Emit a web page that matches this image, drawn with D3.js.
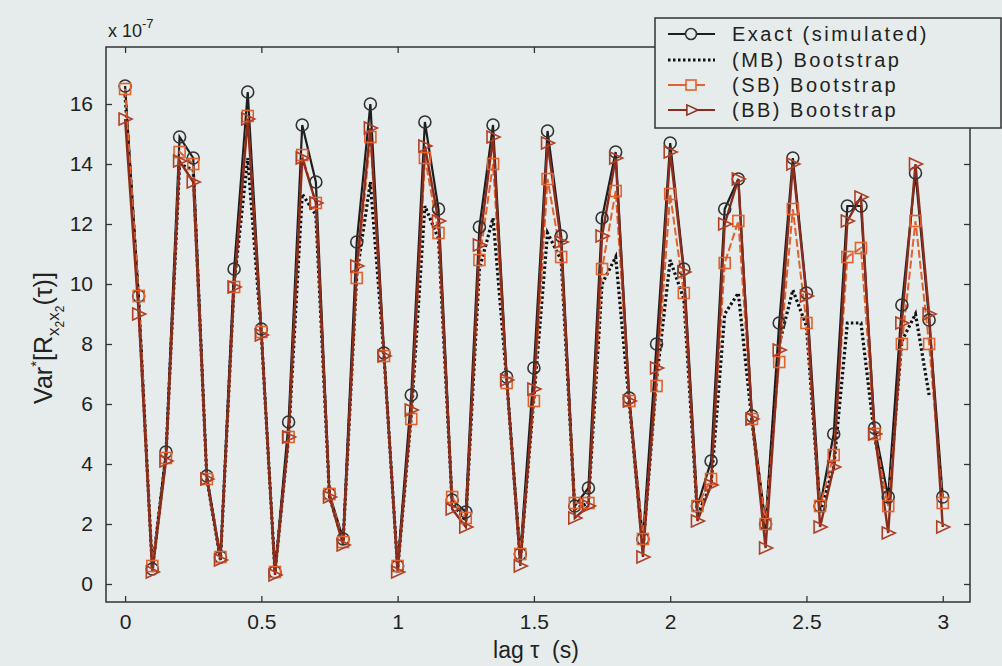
<!DOCTYPE html>
<html><head><meta charset="utf-8">
<script src="https://cdn.jsdelivr.net/npm/d3@7"></script>
<style>
html,body{margin:0;padding:0;background:#e6ecec;}
svg{display:block;}
text{font-family:"Liberation Sans",Arial,sans-serif;fill:#222;}
</style></head>
<body>
<svg id="chart" width="1002" height="666"></svg>
<script>
// lag values (s), step 0.05
const lags = d3.range(61).map(i => +(i * 0.05).toFixed(2));
const exactVals = [16.6,9.6,0.5,4.4,14.9,14.2,3.6,0.9,10.5,16.4,8.5,0.4,5.4,15.3,13.4,3.0,1.5,11.4,16.0,7.7,0.6,6.3,15.4,12.5,2.8,2.4,11.9,15.3,6.9,1.0,7.2,15.1,11.6,2.6,3.2,12.2,14.4,6.2,1.5,8.0,14.7,10.5,2.6,4.1,12.5,13.5,5.6,2.0,8.7,14.2,9.7,2.6,5.0,12.6,12.6,5.2,2.9,9.3,13.7,8.8,2.9];
const mbVals = [16.3,9.4,0.5,4.3,14.0,13.8,3.5,0.8,10.0,14.2,8.3,0.4,4.9,13.0,12.3,2.9,1.4,10.3,13.4,7.6,0.5,5.6,12.6,11.5,2.7,2.1,10.5,12.2,6.8,0.8,6.2,11.7,10.8,2.5,2.7,10.0,10.9,6.0,1.2,6.8,10.8,9.5,2.3,3.3,9.0,9.7,5.4,1.8,8.0,9.8,8.6,2.4,3.9,8.7,8.7,4.9,2.7,8.1,9.0,6.3];
const sbVals = [16.5,9.6,0.6,4.2,14.4,14.0,3.5,0.9,9.9,15.6,8.4,0.4,4.9,14.3,12.7,3.0,1.4,10.2,14.9,7.6,0.6,5.5,14.2,11.7,2.9,2.2,10.8,14.0,6.7,1.0,6.1,13.5,10.9,2.7,2.7,10.5,13.1,6.1,1.5,6.6,13.0,9.7,2.6,3.5,10.7,12.1,5.5,2.0,7.4,12.5,8.7,2.6,4.3,10.9,11.2,5.0,2.6,8.0,12.1,8.0,2.7];
const bbVals = [15.5,9.0,0.4,4.1,14.1,13.4,3.5,0.8,9.9,15.5,8.3,0.3,4.9,14.2,12.7,2.9,1.3,10.6,15.2,7.6,0.4,5.8,14.6,12.1,2.5,1.9,11.3,14.9,6.8,0.6,6.5,14.7,11.4,2.2,2.6,11.6,14.2,6.1,0.9,7.2,14.4,10.4,2.1,3.3,12.0,13.5,5.5,1.2,7.8,14.0,9.6,1.9,3.9,12.1,12.9,5.0,1.7,8.7,14.0,9.0,1.9];
const xTicks = [0,0.5,1,1.5,2,2.5,3];
const xTickLabels = ["0","0.5","1","1.5","2","2.5","3"];
const yTicks = [0,2,4,6,8,10,12,14,16];
const yTickLabels = ["0","2","4","6","8","10","12","14","16"];
const legendLabels = ["Exact (simulated)","(MB) Bootstrap","(SB) Bootstrap","(BB) Bootstrap"];

const svg = d3.select("#chart");
const L = 106, R = 970, T = 47, B = 602;
const x = d3.scaleLinear().domain([-0.07, 3.1]).range([L, R]);
const y = d3.scaleLinear().domain([-0.6, 17.9]).range([B, T]);

const colExact = "#1e1e1e", colMB = "#111", colSB = "#e2622e", colBB = "#8c2c1c";

svg.append("rect").attr("x", L).attr("y", T).attr("width", R - L).attr("height", B - T)
  .attr("fill", "#e6ecec").attr("stroke", "none");

svg.append("defs").append("clipPath").attr("id", "clip")
  .append("rect").attr("x", L).attr("y", T - 20).attr("width", R - L).attr("height", B - T + 20);

const tl = 6;
const gx = svg.append("g").attr("transform", `translate(0,${B})`)
  .call(d3.axisBottom(x).tickValues(xTicks).tickFormat((d, i) => xTickLabels[i]).tickSize(-tl).tickPadding(11));
const gxt = svg.append("g").attr("transform", `translate(0,${T})`)
  .call(d3.axisTop(x).tickValues(xTicks).tickFormat("").tickSize(-tl));
const gy = svg.append("g").attr("transform", `translate(${L},0)`)
  .call(d3.axisLeft(y).tickValues(yTicks).tickFormat((d, i) => yTickLabels[i]).tickSize(-tl).tickPadding(13));
const gyr = svg.append("g").attr("transform", `translate(${R},0)`)
  .call(d3.axisRight(y).tickValues(yTicks).tickFormat("").tickSize(-tl));
[gx, gxt, gy, gyr].forEach(g => {
  g.select(".domain").remove();
  g.selectAll(".tick line").attr("stroke", "#333").attr("stroke-width", 1.3);
  g.selectAll(".tick text").attr("font-size", 21).attr("fill", "#222")
    .style("font-family", "'Liberation Sans', Arial, sans-serif");
});
gx.selectAll(".tick text").attr("dy", "0.75em");

const plot = svg.append("g").attr("clip-path", "url(#clip)");
const line = d3.line().x((d, i) => x(lags[i])).y(d => y(d));

plot.append("path").datum(exactVals).attr("d", line).attr("fill", "none")
  .attr("stroke", colExact).attr("stroke-width", 2.2);
plot.append("path").datum(mbVals).attr("d", line).attr("fill", "none")
  .attr("stroke", colMB).attr("stroke-width", 3.2).attr("stroke-dasharray", "2.5,2.5");
plot.append("path").datum(sbVals).attr("d", line).attr("fill", "none")
  .attr("stroke", colSB).attr("stroke-width", 2).attr("stroke-dasharray", "8,3");
plot.append("path").datum(bbVals).attr("d", line).attr("fill", "none")
  .attr("stroke", colBB).attr("stroke-width", 2.4);

const triPath = "M-6,-6L7,0L-6,6Z";
plot.selectAll("circle.ex").data(exactVals).enter().append("circle")
  .attr("cx", (d, i) => x(lags[i])).attr("cy", d => y(d)).attr("r", 6)
  .attr("fill", "none").attr("stroke", "#333").attr("stroke-width", 1.6);
plot.selectAll("rect.sb").data(sbVals).enter().append("rect")
  .attr("x", (d, i) => x(lags[i]) - 5.5).attr("y", d => y(d) - 5.5).attr("width", 11).attr("height", 11)
  .attr("fill", "none").attr("stroke", colSB).attr("stroke-width", 1.6);
plot.selectAll("path.bb").data(bbVals).enter().append("path")
  .attr("d", triPath).attr("transform", (d, i) => `translate(${x(lags[i])},${y(d)})`)
  .attr("fill", "none").attr("stroke", "#b23e25").attr("stroke-width", 1.6);

svg.append("rect").attr("x", L).attr("y", T).attr("width", R - L).attr("height", B - T)
  .attr("fill", "none").attr("stroke", "#333").attr("stroke-width", 1.5);

const ex = svg.append("text").attr("x", 108).attr("y", 37).attr("font-size", 18);
ex.append("tspan").text("x 10");
ex.append("tspan").attr("dy", -9).attr("font-size", 13).text("-7");

const xl = svg.append("text").attr("x", 536).attr("y", 658).attr("text-anchor", "middle").attr("font-size", 23);
xl.text("lag \u03c4  (s)").attr("xml:space", "preserve").style("white-space", "pre");

const yl = svg.append("text").attr("transform", "translate(52,338) rotate(-90)")
  .attr("text-anchor", "middle").attr("font-size", 25);
yl.append("tspan").text("Var");
yl.append("tspan").attr("dy", -11).attr("font-size", 15).text("*");
yl.append("tspan").attr("dy", 11).text("[R");
yl.append("tspan").attr("dy", 7).attr("font-size", 17).text("x");
yl.append("tspan").attr("dy", 5).attr("font-size", 12).text("2");
yl.append("tspan").attr("dy", -5).attr("font-size", 17).text("x");
yl.append("tspan").attr("dy", 5).attr("font-size", 12).text("2");
yl.append("tspan").attr("dy", -12).text("(\u03c4)]");

const lg = svg.append("g");
lg.append("rect").attr("x", 655).attr("y", 18).attr("width", 346).attr("height", 110)
  .attr("fill", "#e6ecec").attr("stroke", "#333").attr("stroke-width", 1.5);
const rowsY = [34, 60, 85, 110];
const legCols = [colExact, colMB, colSB, colBB];
legendLabels.forEach((lab, i) => {
  const yy = rowsY[i];
  const ln = lg.append("line").attr("x1", 668).attr("x2", 715).attr("y1", yy).attr("y2", yy)
    .attr("stroke", legCols[i]).attr("stroke-width", i === 1 ? 3 : 1.8);
  if (i === 1) ln.attr("stroke-dasharray", "2.5,2.5");
  if (i === 2) ln.attr("x2", 705);
  if (i === 0) lg.append("circle").attr("cx", 691).attr("cy", yy).attr("r", 5.5)
    .attr("fill", "#e6ecec").attr("stroke", "#333").attr("stroke-width", 1.6);
  if (i === 2) lg.append("rect").attr("x", 686).attr("y", yy - 5).attr("width", 10).attr("height", 10)
    .attr("fill", "#e6ecec").attr("stroke", colSB).attr("stroke-width", 1.6);
  if (i === 3) lg.append("path").attr("d", triPath).attr("transform", `translate(692,${yy}) scale(0.85)`)
    .attr("fill", "#e6ecec").attr("stroke", colBB).attr("stroke-width", 1.8);
  lg.append("text").attr("x", 732).attr("y", yy + 7).attr("font-size", 20)
    .attr("letter-spacing", 2.5).text(lab);
});
</script>
</body></html>
